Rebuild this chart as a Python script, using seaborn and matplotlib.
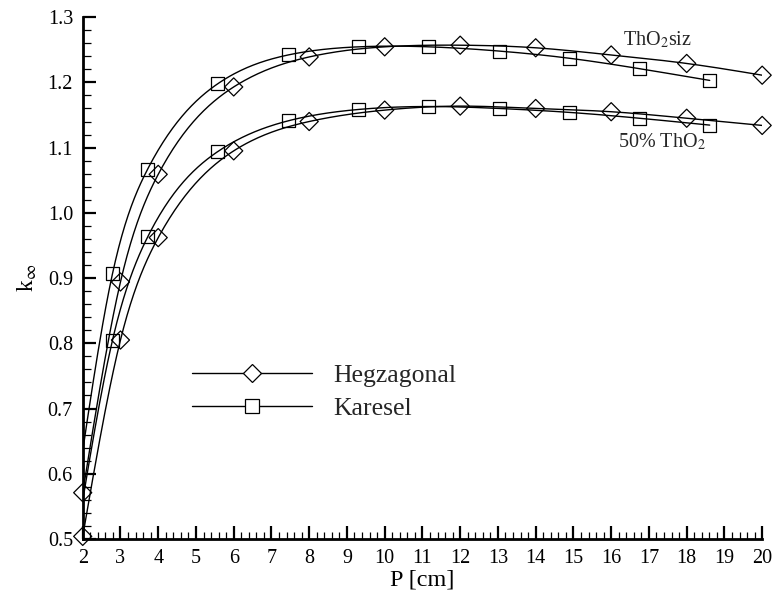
import numpy as np
import pandas as pd
import matplotlib
matplotlib.use("Agg")
import matplotlib.pyplot as plt
import seaborn as sns
from matplotlib.lines import Line2D
from matplotlib.ticker import MultipleLocator

# ---------------- data ----------------
hex_p = [2, 3, 4, 6, 8, 10, 12, 14, 16, 18, 20]
hex_k_pure = [0.571, 0.894, 1.059, 1.193, 1.239, 1.2545, 1.257, 1.253, 1.242, 1.229, 1.211]
hex_k_mix = [0.504, 0.805, 0.962, 1.095, 1.140, 1.1575, 1.1636, 1.160, 1.155, 1.145, 1.134]

sq_p = [1.86, 2.79, 3.72, 5.58, 7.44, 9.31, 11.17, 13.03, 14.89, 16.75, 18.61]
sq_k_pure = [0.58, 0.907, 1.067, 1.198, 1.242, 1.2545, 1.2545, 1.248, 1.237, 1.221, 1.203]
sq_k_mix = [0.51, 0.805, 0.963, 1.094, 1.141, 1.1585, 1.163, 1.160, 1.154, 1.145, 1.1345]

x_ticks = list(range(2, 21))
y_ticks = [0.5, 0.6, 0.7, 0.8, 0.9, 1.0, 1.1, 1.2, 1.3]
legend_labels = ["Hegzagonal", "Karesel"]
label_pure = "ThO$_2$siz"
label_mix = "50% ThO$_2$"
x_label = "P [cm]"
y_label = "k$_\\infty$"

# ---------------- style ----------------
sns.set_theme(style="ticks")
plt.rcParams["font.family"] = ["Liberation Serif", "DejaVu Serif"]
plt.rcParams["mathtext.fontset"] = "stix"

XLIM = (2, 20)
YLIM = (0.5, 1.3)


def natural_spline(x, y, n=400):
    x = np.asarray(x, float)
    y = np.asarray(y, float)
    m = len(x)
    h = np.diff(x)
    A = np.zeros((m, m))
    b = np.zeros(m)
    A[0, 0] = 1.0
    A[-1, -1] = 1.0
    for i in range(1, m - 1):
        A[i, i - 1] = h[i - 1]
        A[i, i] = 2 * (h[i - 1] + h[i])
        A[i, i + 1] = h[i]
        b[i] = 6 * ((y[i + 1] - y[i]) / h[i] - (y[i] - y[i - 1]) / h[i - 1])
    M = np.linalg.solve(A, b)
    xs = np.linspace(x[0], x[-1], n)
    idx = np.clip(np.searchsorted(x, xs) - 1, 0, m - 2)
    x0, x1 = x[idx], x[idx + 1]
    hh = x1 - x0
    t0 = x1 - xs
    t1 = xs - x0
    ys = (M[idx] * t0 ** 3 / (6 * hh) + M[idx + 1] * t1 ** 3 / (6 * hh)
          + (y[idx] / hh - M[idx] * hh / 6) * t0
          + (y[idx + 1] / hh - M[idx + 1] * hh / 6) * t1)
    return xs, ys


fig = plt.figure(figsize=(7.73, 5.91), dpi=100)
ax = fig.add_axes([0.107, 0.088, 0.879, 0.883])

series = [
    (hex_p, hex_k_pure, "D", 85),
    (hex_p, hex_k_mix, "D", 85),
    (sq_p, sq_k_pure, "s", 88),
    (sq_p, sq_k_mix, "s", 88),
]

for px, py, mk, sz in series:
    xs, ys = natural_spline(px, py)
    curve = pd.DataFrame({"P": xs, "k": ys})
    sns.lineplot(data=curve, x="P", y="k", ax=ax, color="black",
                 linewidth=1.0, estimator=None, sort=False, zorder=2)
    pts = pd.DataFrame({"P": px, "k": py})
    pts = pts[(pts["P"] >= XLIM[0]) & (pts["P"] <= XLIM[1])]
    sns.scatterplot(data=pts, x="P", y="k", ax=ax, marker=mk, s=sz,
                    facecolors="none", edgecolors="black", linewidth=0.9,
                    zorder=6, clip_on=False)

ax.set_xlim(*XLIM)
ax.set_ylim(*YLIM)
ax.set_xticks(x_ticks)
ax.set_yticks(y_ticks)
ax.set_yticklabels([f"{v:.1f}" for v in y_ticks])
ax.xaxis.set_minor_locator(MultipleLocator(0.2))
ax.yaxis.set_minor_locator(MultipleLocator(0.02))

for s in ["top", "right"]:
    ax.spines[s].set_visible(False)
for s in ["left", "bottom"]:
    ax.spines[s].set_linewidth(2.0)
    ax.spines[s].set_color("black")
    ax.spines[s].set_zorder(5)

ax.tick_params(which="major", direction="in", length=9.5, width=1.6,
               labelsize=14.5, pad=7, colors="black")
ax.tick_params(which="minor", direction="in", length=5.4, width=0.9,
               colors="black")
ax.tick_params(axis="x", which="both", top=False)
ax.tick_params(axis="y", which="both", right=False)

ax.set_xlabel(x_label, fontsize=17.5, labelpad=1, color="black")
ax.set_ylabel(y_label, fontsize=17, labelpad=6, color="black")
ax.grid(False)

ax.text(16.31, 1.257, label_pure, fontsize=14.5, ha="left", va="baseline")
ax.text(16.18, 1.101, label_mix, fontsize=14.5, ha="left", va="baseline")

handles = [
    Line2D([], [], color="black", lw=1.0, marker="D", markersize=8.8,
           markerfacecolor="white", markeredgecolor="black", markeredgewidth=0.9),
    Line2D([], [], color="black", lw=1.0, marker="s", markersize=10,
           markerfacecolor="white", markeredgecolor="black", markeredgewidth=0.9),
]
leg = ax.legend(handles, legend_labels, loc="center left",
                bbox_to_anchor=(191.7 / 773, 1 - 391.7 / 591),
                bbox_transform=fig.transFigure, frameon=False, fontsize=18.5,
                handlelength=4.7, handletextpad=0.82, labelspacing=0.38,
                borderpad=0, borderaxespad=0, numpoints=1)

fig.savefig("out.png", dpi=100, facecolor="white")
